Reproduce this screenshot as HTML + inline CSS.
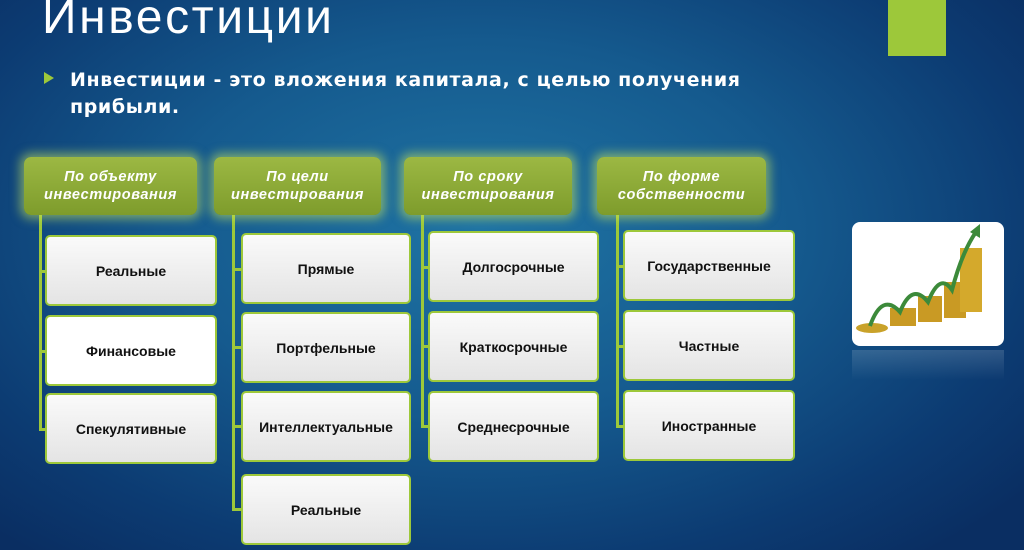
<!DOCTYPE html>
<html><head><meta charset="utf-8"><style>
*{margin:0;padding:0;box-sizing:border-box}
body{width:1024px;height:550px;overflow:hidden;position:relative;font-family:"Liberation Sans","DejaVu Sans",sans-serif;
background:radial-gradient(ellipse 700px 420px at 480px 230px,#1f74a4 0%,#155a8e 45%,#0c3b72 80%,#0a2e62 100%)}
.t{position:absolute;left:42px;top:-10px;font-size:48px;color:#fff;letter-spacing:2.6px}
.sq{position:absolute;left:888px;top:0;width:58px;height:56px;background:#9dc83a}
.b{position:absolute;left:44px;top:72px;width:0;height:0;border-left:10px solid #9dc83a;border-top:6px solid transparent;border-bottom:6px solid transparent}
.p{position:absolute;left:70px;top:67px;font-size:21px;color:#fff;line-height:27px;letter-spacing:1.6px;font-family:"DejaVu Sans",sans-serif;font-size:19px;font-weight:bold;letter-spacing:0.6px}
.h{position:absolute;height:58px;border-radius:7px;background:linear-gradient(#9cb843,#7e9c2c);box-shadow:0 0 10px 4px rgba(200,230,90,.55);color:#fff;font-style:italic;font-weight:bold;font-size:14.5px;text-align:center;line-height:18px;padding-top:11px;letter-spacing:0.6px}
.x{position:absolute;height:71px;border-radius:5px;background:linear-gradient(#fafafa,#e4e4e4);border:2px solid #9dc83a;display:flex;align-items:center;justify-content:center;font-weight:bold;font-size:14px;color:#111}
.v{position:absolute;width:3px;background:#9dc83a}
.hl{position:absolute;height:3px;width:10px;background:#9dc83a}
.img{position:absolute;left:852px;top:222px;width:152px;height:124px;background:#fff;border-radius:8px;overflow:hidden}
.ref{position:absolute;left:852px;top:350px;width:152px;height:30px;background:linear-gradient(rgba(255,255,255,.15),rgba(255,255,255,0))}
</style></head><body>
<div class="t">Инвестиции</div>
<div class="sq"></div>
<div class="b"></div>
<div class="p">Инвестиции - это вложения капитала, с целью получения<br>прибыли.</div>

<div class="v" style="left:39px;top:215px;height:215px"></div>
<div class="v" style="left:232px;top:215px;height:295px"></div>
<div class="v" style="left:421px;top:215px;height:212px"></div>
<div class="v" style="left:616px;top:215px;height:212px"></div>
<div class="hl" style="left:39px;top:270px"></div><div class="hl" style="left:39px;top:350px"></div><div class="hl" style="left:39px;top:428px"></div>
<div class="hl" style="left:232px;top:268px"></div><div class="hl" style="left:232px;top:346px"></div><div class="hl" style="left:232px;top:425px"></div><div class="hl" style="left:232px;top:508px"></div>
<div class="hl" style="left:421px;top:266px"></div><div class="hl" style="left:421px;top:345px"></div><div class="hl" style="left:421px;top:425px"></div>
<div class="hl" style="left:616px;top:265px"></div><div class="hl" style="left:616px;top:345px"></div><div class="hl" style="left:616px;top:425px"></div>

<div class="h" style="left:24px;top:157px;width:173px">По объекту<br>инвестирования</div>
<div class="h" style="left:214px;top:157px;width:167px">По цели<br>инвестирования</div>
<div class="h" style="left:404px;top:157px;width:168px">По сроку<br>инвестирования</div>
<div class="h" style="left:597px;top:157px;width:169px">По форме<br>собственности</div>

<div class="x" style="left:45px;top:235px;width:172px">Реальные</div>
<div class="x" style="left:45px;top:315px;width:172px;background:#fff">Финансовые</div>
<div class="x" style="left:45px;top:393px;width:172px">Спекулятивные</div>

<div class="x" style="left:241px;top:233px;width:170px">Прямые</div>
<div class="x" style="left:241px;top:312px;width:170px">Портфельные</div>
<div class="x" style="left:241px;top:391px;width:170px">Интеллектуальные</div>
<div class="x" style="left:241px;top:474px;width:170px">Реальные</div>

<div class="x" style="left:428px;top:231px;width:171px">Долгосрочные</div>
<div class="x" style="left:428px;top:311px;width:171px">Краткосрочные</div>
<div class="x" style="left:428px;top:391px;width:171px">Среднесрочные</div>

<div class="x" style="left:623px;top:230px;width:172px">Государственные</div>
<div class="x" style="left:623px;top:310px;width:172px">Частные</div>
<div class="x" style="left:623px;top:390px;width:172px">Иностранные</div>

<div class="img"><svg width="152" height="124">
<ellipse cx="20" cy="106" rx="16" ry="5" fill="#c9a22a"/>
<rect x="38" y="86" width="26" height="18" fill="#c99a24"/>
<rect x="66" y="74" width="24" height="26" fill="#c99a24"/>
<rect x="92" y="60" width="22" height="36" fill="#c99a24"/>
<rect x="108" y="26" width="22" height="64" fill="#d4a92c"/>
<path d="M18 104 Q30 70 48 90 Q60 60 76 80 Q88 50 100 68 Q110 30 124 10" stroke="#3c8a3a" stroke-width="4" fill="none"/>
<polygon points="118,10 128,2 128,16" fill="#3c8a3a"/>
</svg></div>
<div class="ref"></div>
</body></html>
